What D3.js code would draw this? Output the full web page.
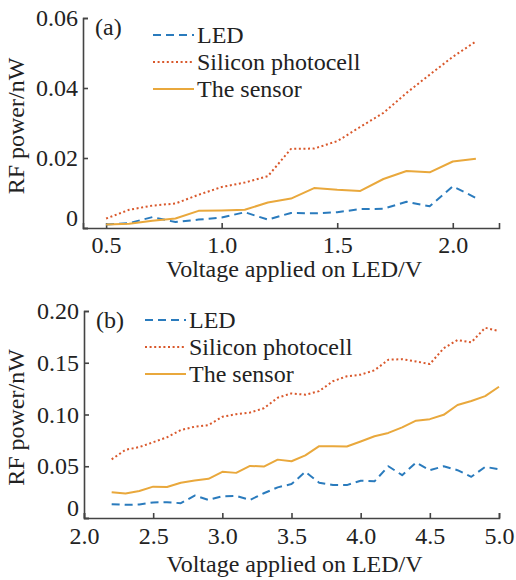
<!DOCTYPE html>
<html>
<head>
<meta charset="utf-8">
<script src="https://cdn.jsdelivr.net/npm/d3@7/dist/d3.min.js"></script>
<style>
    body { margin: 0; background: #fff; }
    svg text { font-family: "Liberation Serif", "Times New Roman", serif; fill: #222; }
</style>
</head>
<body>
<svg id="chart"></svg>
<script>
// Panel (a): LED voltage 0.5 .. 2.1 V
var voltageA = [0.5, 0.6, 0.7, 0.8, 0.9, 1.0, 1.1, 1.2, 1.3, 1.4, 1.5, 1.6, 1.7, 1.8, 1.9, 2.0, 2.1];
var ledA = [0.0010, 0.0014, 0.0031, 0.0017, 0.0024, 0.0030, 0.0045, 0.0024, 0.0043, 0.0042, 0.0045,
    0.0054, 0.0055, 0.0075, 0.0062, 0.0119, 0.0086];
var siliconA = [0.0027, 0.0052, 0.0064, 0.0070, 0.0095, 0.0117, 0.0130, 0.0148, 0.0226, 0.0227, 0.0248,
    0.0289, 0.0329, 0.0386, 0.0438, 0.0489, 0.0533];
var sensorA = [0.0010, 0.0012, 0.0021, 0.0027, 0.0049, 0.0050, 0.0052, 0.0073, 0.0084, 0.0114, 0.0109,
    0.0106, 0.0140, 0.0163, 0.0159, 0.0190, 0.0198];
var xTicksA = [0.5, 1.0, 1.5, 2.0];
var yTicksA = [0, 0.02, 0.04, 0.06];

// Panel (b): LED voltage 2.2 .. 5.0 V
var voltageB = [2.2, 2.3, 2.4, 2.5, 2.6, 2.7, 2.8, 2.9, 3.0, 3.1, 3.2, 3.3, 3.4, 3.5, 3.6, 3.7, 3.8, 3.9,
    4.0, 4.1, 4.2, 4.3, 4.4, 4.5, 4.6, 4.7, 4.8, 4.9, 5.0];
var ledB = [0.0134, 0.0127, 0.0131, 0.0150, 0.0153, 0.0143, 0.0217, 0.0175, 0.0210, 0.0213, 0.0175,
    0.0239, 0.0296, 0.0328, 0.0446, 0.0341, 0.0318, 0.0318, 0.0360, 0.0354, 0.0500, 0.0414, 0.0535,
    0.0462, 0.0500, 0.0462, 0.0398, 0.0494, 0.0471];
var siliconB = [0.0567, 0.0659, 0.0685, 0.0732, 0.0780, 0.0850, 0.0882, 0.0898, 0.0978, 0.1003, 0.1019,
    0.1060, 0.1162, 0.1204, 0.1191, 0.1226, 0.1322, 0.1369, 0.1385, 0.1427, 0.1529, 0.1535, 0.1513,
    0.1487, 0.1640, 0.1720, 0.1697, 0.1838, 0.1806];
var sensorB = [0.0248, 0.0236, 0.0261, 0.0303, 0.0299, 0.0341, 0.0363, 0.0379, 0.0446, 0.0436, 0.0503,
    0.0497, 0.0564, 0.0548, 0.0605, 0.0694, 0.0694, 0.0691, 0.0739, 0.0790, 0.0822, 0.0876, 0.0940,
    0.0955, 0.0997, 0.1092, 0.1131, 0.1178, 0.1268];
var xTicksB = [2.0, 2.5, 3.0, 3.5, 4.0, 4.5, 5.0];
var yTicksB = [0, 0.05, 0.10, 0.15, 0.20];

var seriesNames = ["LED", "Silicon photocell", "The sensor"];
var xLabel = "Voltage applied on LED/V";
var yLabel = "RF power/nW";

var width = 516,
    height = 580,
    fontSize = 24;

// Line styles follow the legend order
var styles = [
    {colour: "#2a7bbd", dash: "8,5", width: 2},
    {colour: "#d9582b", dash: "2,2.6", width: 2},
    {colour: "#e9a83c", dash: null, width: 2}
];

var svg = d3.select("#chart")
    .attr("width", width)
    .attr("height", height);

function drawPanel(opts) {
    var x = d3.scaleLinear().domain(opts.xDomain).range([opts.left, opts.right]);
    var y = d3.scaleLinear().domain(opts.yDomain).range([opts.bottom, opts.top]);

    var g = svg.append("g");

    // Axes, ticks pointing inwards
    var xAxis = g.append("g")
        .attr("transform", "translate(0," + opts.bottom + ")")
        .call(d3.axisBottom(x)
            .tickValues(opts.xTicks)
            .tickFormat(d3.format(".1f"))
            .tickSize(-5)
            .tickPadding(opts.xPad));

    var yAxis = g.append("g")
        .attr("transform", "translate(" + opts.left + ",0)")
        .call(d3.axisLeft(y)
            .tickValues(opts.yTicks)
            .tickFormat(function (d) { return d === 0 ? "0" : d3.format(opts.yFormat)(d); })
            .tickSize(-5)
            .tickPadding(5));

    [xAxis, yAxis].forEach(function (ax) {
        ax.select(".domain").attr("stroke", "#444").attr("stroke-width", 1.6);
        ax.selectAll(".tick line").attr("stroke", "#444").attr("stroke-width", 1.6);
        ax.selectAll("text")
            .attr("font-size", fontSize)
            .attr("fill", "#222");
    });

    // Nudge the zero label up so it clears the x labels
    yAxis.selectAll(".tick")
        .filter(function (d) { return d === 0; })
        .select("text")
        .attr("dy", "-0.12em");

    // Data lines
    var line = d3.line()
        .x(function (d) { return x(d[0]); })
        .y(function (d) { return y(d[1]); });

    opts.series.forEach(function (values, i) {
        var pts = opts.xs.map(function (v, k) { return [v, values[k]]; });
        g.append("path")
            .datum(pts)
            .attr("d", line)
            .attr("fill", "none")
            .attr("stroke", styles[i].colour)
            .attr("stroke-width", styles[i].width)
            .attr("stroke-dasharray", styles[i].dash)
            .attr("stroke-linejoin", "round");
    });

    // Panel tag
    g.append("text")
        .attr("x", opts.left + 12)
        .attr("y", opts.top + 17)
        .attr("font-size", fontSize)
        .text(opts.tag);

    // Legend
    seriesNames.forEach(function (name, i) {
        var base = opts.legendTop + i * 27;
        g.append("line")
            .attr("x1", opts.legendX)
            .attr("x2", opts.legendX + 41)
            .attr("y1", base - 8)
            .attr("y2", base - 8)
            .attr("stroke", styles[i].colour)
            .attr("stroke-width", styles[i].width)
            .attr("stroke-dasharray", styles[i].dash);
        g.append("text")
            .attr("x", opts.legendX + 44)
            .attr("y", base)
            .attr("font-size", fontSize)
            .text(name);
    });

    // Axis titles
    g.append("text")
        .attr("x", (opts.left + opts.right) / 2 + 3)
        .attr("y", opts.xLabelY)
        .attr("text-anchor", "middle")
        .attr("font-size", fontSize)
        .text(xLabel);

    g.append("text")
        .attr("transform", "translate(24," + ((opts.top + opts.bottom) / 2 + 3) + ") rotate(-90)")
        .attr("text-anchor", "middle")
        .attr("font-size", fontSize)
        .text(yLabel);
}

drawPanel({
    tag: "(a)",
    xs: voltageA,
    series: [ledA, siliconA, sensorA],
    xDomain: [0.4, 2.2],
    yDomain: [0, 0.06],
    xTicks: xTicksA,
    yTicks: yTicksA,
    yFormat: ".2f",
    left: 83, right: 499, top: 18, bottom: 228,
    xPad: 8,
    legendX: 153, legendTop: 43,
    xLabelY: 277
});

drawPanel({
    tag: "(b)",
    xs: voltageB,
    series: [ledB, siliconB, sensorB],
    xDomain: [2.0, 5.0],
    yDomain: [0, 0.20],
    xTicks: xTicksB,
    yTicks: yTicksB,
    yFormat: ".2f",
    left: 84, right: 499, top: 311, bottom: 518,
    xPad: 9,
    legendX: 145, legendTop: 328,
    xLabelY: 572
});
</script>
</body>
</html>
